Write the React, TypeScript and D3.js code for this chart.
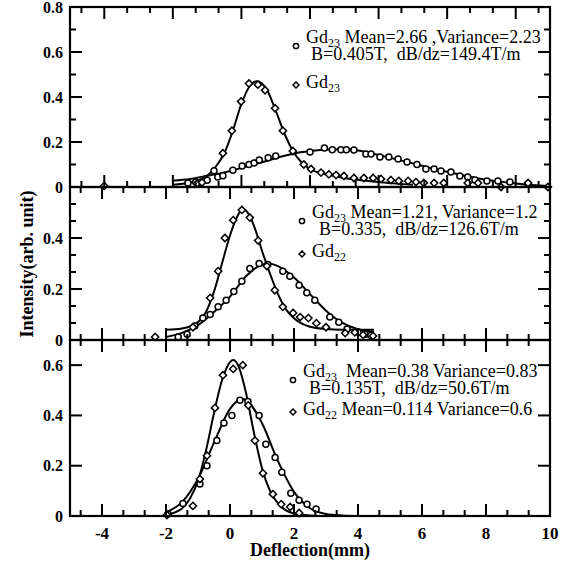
import * as d3 from "d3";

// ---- data (x in mm, y in arb. unit) ----
type Pt = [number, number];

// top panel: B=0.405T
const p1Circles: Pt[] = [
  [-1.56, 0.018], [-1.33, 0.022], [-1.2, 0.02], [-1.0, 0.03], [-0.8, 0.072], [-0.69, 0.044],
  [-0.54, 0.05], [-0.25, 0.075], [0.02, 0.093], [0.22, 0.1], [0.37, 0.107], [0.52, 0.12],
  [0.78, 0.13], [1.0, 0.138], [2.0, 0.156], [2.42, 0.173], [2.65, 0.166], [2.9, 0.166],
  [3.06, 0.166], [3.28, 0.164], [3.63, 0.147], [3.78, 0.147], [4.04, 0.133], [4.3, 0.133],
  [4.57, 0.124], [4.83, 0.111], [5.12, 0.1], [5.38, 0.08], [5.62, 0.08], [5.82, 0.071],
  [6.11, 0.067], [6.37, 0.049], [6.6, 0.044], [6.81, 0.031], [7.16, 0.027], [7.48, 0.027],
  [7.83, 0.022], [8.36, 0.013],
];
const p1Diamonds: Pt[] = [
  [-4.0, 0.005], [-1.3, 0.015], [-1.15, 0.02], [-0.54, 0.15], [-0.28, 0.25], [-0.01, 0.38],
  [0.22, 0.46], [0.48, 0.455], [0.69, 0.43], [0.98, 0.35], [1.21, 0.25], [1.5, 0.16],
  [1.82, 0.1], [2.03, 0.08], [2.32, 0.064], [2.55, 0.056], [2.76, 0.053], [2.99, 0.049],
  [3.28, 0.04], [3.57, 0.04], [3.84, 0.04], [4.07, 0.036], [4.36, 0.031], [4.59, 0.027],
  [4.86, 0.027], [5.09, 0.022], [5.32, 0.018], [5.62, 0.018], [5.9, 0.018], [6.6, 0.018],
  [6.9, 0.018], [7.57, 0.0], [8.36, 0.018], [8.94, 0.0],
];
const p1BroadFit: Pt[] = [
  [-2, 0.028], [-1.5, 0.036], [-1, 0.05], [-0.5, 0.065], [0, 0.085], [0.5, 0.105], [1, 0.128],
  [1.5, 0.148], [2, 0.16], [2.5, 0.167], [3, 0.168], [3.5, 0.16], [4, 0.142], [4.5, 0.124],
  [5, 0.105], [5.5, 0.085], [6, 0.068], [6.5, 0.05], [7, 0.036], [7.5, 0.025], [8, 0.016],
  [8.5, 0.009], [9, 0.005],
];
const p1PeakFit: Pt[] = [
  [-2, 0.01], [-1.5, 0.02], [-1, 0.05], [-0.75, 0.09], [-0.5, 0.15], [-0.25, 0.25], [0, 0.37],
  [0.25, 0.45], [0.45, 0.47], [0.75, 0.43], [1, 0.34], [1.25, 0.24], [1.5, 0.16], [1.75, 0.11],
  [2, 0.08], [2.5, 0.055], [3, 0.04], [3.5, 0.03], [4, 0.022], [4.5, 0.015], [5, 0.01],
];

// middle panel: B=0.335
const p2Circles: Pt[] = [
  [-1.62, 0.012], [-1.34, 0.023], [-1.1, 0.055], [-0.85, 0.086], [-0.62, 0.1], [-0.37, 0.13],
  [-0.12, 0.156], [0.12, 0.19], [0.37, 0.23], [0.62, 0.28], [0.91, 0.3], [1.18, 0.296],
  [1.65, 0.27], [1.87, 0.25], [2.16, 0.215], [2.4, 0.185], [2.65, 0.156], [3.12, 0.09],
  [3.4, 0.07], [3.66, 0.043], [4.0, 0.03], [4.22, 0.023], [4.4, 0.018],
];
const p2Diamonds: Pt[] = [
  [-2.34, 0.012], [-1.16, 0.05], [-0.62, 0.165], [-0.37, 0.27], [-0.16, 0.4], [0.1, 0.47],
  [0.37, 0.51], [0.62, 0.48], [0.88, 0.39], [1.15, 0.29], [1.4, 0.195], [1.65, 0.13],
  [1.97, 0.106], [2.19, 0.09], [2.45, 0.086], [2.7, 0.066], [3.0, 0.05], [3.6, 0.027],
  [3.9, 0.03], [4.16, 0.02], [4.47, 0.016],
];
const p2BroadFit: Pt[] = [
  [-2, 0.012], [-1.5, 0.028], [-1, 0.058], [-0.5, 0.11], [0, 0.17], [0.5, 0.25], [0.9, 0.29],
  [1.2, 0.3], [1.5, 0.29], [2, 0.245], [2.5, 0.18], [3, 0.115], [3.5, 0.068], [4, 0.042],
  [4.5, 0.032],
];
const p2PeakFit: Pt[] = [
  [-2, 0.04], [-1.5, 0.045], [-1, 0.07], [-0.75, 0.11], [-0.5, 0.19], [-0.25, 0.3], [0, 0.41],
  [0.25, 0.49], [0.4, 0.515], [0.6, 0.49], [0.8, 0.43], [1, 0.35], [1.25, 0.26], [1.5, 0.18],
  [1.75, 0.12], [2, 0.085], [2.5, 0.052], [3, 0.043], [3.5, 0.04], [4, 0.04], [4.5, 0.04],
];

// bottom panel: B=0.135T
const p3Circles: Pt[] = [
  [-1.94, 0.008], [-1.47, 0.05], [-0.94, 0.127], [-0.72, 0.2], [-0.41, 0.3], [-0.19, 0.37],
  [0.06, 0.4], [0.31, 0.46], [0.56, 0.455], [0.91, 0.4], [1.12, 0.285], [1.41, 0.233],
  [1.62, 0.174], [1.9, 0.09], [2.16, 0.063], [2.41, 0.047], [2.69, 0.028],
];
const p3Diamonds: Pt[] = [
  [-1.97, 0.004], [-1.16, 0.04], [-0.94, 0.147], [-0.72, 0.24], [-0.47, 0.43], [-0.22, 0.56],
  [0.1, 0.585], [0.4, 0.6], [0.57, 0.44], [0.78, 0.3], [1.03, 0.17], [1.34, 0.087],
  [1.6, 0.047], [1.88, 0.036], [2.16, 0.012],
];
const p3BroadFit: Pt[] = [
  [-2, 0.015], [-1.5, 0.055], [-1, 0.148], [-0.5, 0.292], [0, 0.426], [0.38, 0.465],
  [0.5, 0.461], [1, 0.369], [1.5, 0.218], [2, 0.096], [2.5, 0.031], [3, 0.008], [3.5, 0.002],
  [4, 0],
];
const p3PeakFit: Pt[] = [
  [-2, 0.004], [-1.5, 0.03], [-1.25, 0.07], [-1, 0.14], [-0.75, 0.26], [-0.5, 0.41],
  [-0.25, 0.54], [0, 0.612], [0.1, 0.62], [0.25, 0.6], [0.5, 0.49], [0.75, 0.33], [1, 0.19],
  [1.25, 0.1], [1.5, 0.05], [1.75, 0.022], [2, 0.01], [2.5, 0.002], [3, 0],
];

const yTickLabels1 = [0, 0.2, 0.4, 0.6, 0.8];
const yTickLabels2 = [0, 0.2, 0.4];
const yTickLabels3 = [0, 0.2, 0.4, 0.6];
const xTickLabels = [-4, -2, 0, 2, 4, 6, 8, 10];

// ---- layout ----
const W = 575;
const H = 565;
const LEFT = 70;
const RIGHT = 550;
const FONT = '"Liberation Serif", Tinos, "Times New Roman", "DejaVu Serif", serif';

type Legend = {
  x: number;
  y: number;
  line1: [string, string];
  line2: string;
  line2dx: number;
  line3: [string, string];
  gap: number;
};

const panels = [
  {
    top: 7, bottom: 187, xDomain: [-5, 9], yMax: 0.8, yMinor: 1, yLabels: yTickLabels1,
    circles: p1Circles, diamonds: p1Diamonds, fits: [p1BroadFit, p1PeakFit],
    legend: {
      x: 306, y: 43, line1: ["23", " Mean=2.66 ,Variance=2.23"],
      line2: "B=0.405T,  dB/dz=149.4T/m", line2dx: 5, line3: ["23", ""], gap: 45,
    } as Legend,
  },
  {
    top: 187, bottom: 340, xDomain: [-5, 10], yMax: 0.6, yMinor: 2, yLabels: yTickLabels2,
    circles: p2Circles, diamonds: p2Diamonds, fits: [p2BroadFit, p2PeakFit],
    legend: {
      x: 312, y: 218, line1: ["23", " Mean=1.21, Variance=1.2"],
      line2: "B=0.335,  dB/dz=126.6T/m", line2dx: 7, line3: ["22", ""], gap: 39,
    } as Legend,
  },
  {
    top: 340, bottom: 516, xDomain: [-5, 10], yMax: 0.7, yMinor: 0, yLabels: yTickLabels3,
    circles: p3Circles, diamonds: p3Diamonds, fits: [p3BroadFit, p3PeakFit],
    legend: {
      x: 303, y: 377, line1: ["23", "  Mean=0.38 Variance=0.83"],
      line2: "B=0.135T,  dB/dz=50.6T/m", line2dx: 6, line3: ["22", " Mean=0.114 Variance=0.6"],
      gap: 38,
    } as Legend,
  },
];

function diamond(cx: number, cy: number, r = 3.6) {
  return `M${cx},${cy - r}L${cx + r},${cy}L${cx},${cy + r}L${cx - r},${cy}Z`;
}

function Panel({ p, showXLabels }: { p: (typeof panels)[number]; showXLabels: boolean }) {
  const x = d3.scaleLinear().domain(p.xDomain).range([LEFT, RIGHT]);
  const y = d3.scaleLinear().domain([0, p.yMax]).range([p.bottom, p.top]);
  const line = d3
    .line<Pt>()
    .x((d) => x(d[0]))
    .y((d) => y(d[1]))
    .curve(d3.curveMonotoneX);

  const xMajor = d3.range(-4, p.xDomain[1] + 0.001, 2);
  const xMinor = d3
    .range(-4 - 4 / 3, p.xDomain[1] + 0.001, 2 / 3)
    .filter((v) => v > p.xDomain[0] + 0.01 && v < p.xDomain[1] - 0.01)
    .filter((v) => xMajor.every((m) => Math.abs(m - v) > 0.01));
  const yMajor = d3.range(0, p.yMax + 0.001, 0.2);
  const yMinor =
    p.yMinor > 0
      ? d3
          .range(0, p.yMax + 0.001, 0.2 / (p.yMinor + 1))
          .filter((v) => yMajor.every((m) => Math.abs(m - v) > 0.005))
      : [];

  const lg = p.legend;
  const txt = { fontFamily: FONT, whiteSpace: "pre" as const };
  return (
    <g>
      {/* fitted curves */}
      {p.fits.map((f, i) => (
        <path key={i} d={line(f) ?? ""} fill="none" stroke="#000" strokeWidth={2} />
      ))}
      {/* measured points */}
      {p.circles.map((d, i) => (
        <circle key={"c" + i} cx={x(d[0])} cy={y(d[1])} r={3} fill="#fff" stroke="#000" strokeWidth={1.5} />
      ))}
      {p.diamonds.map((d, i) => (
        <path key={"d" + i} d={diamond(x(d[0]), y(d[1]))} fill="#fff" stroke="#000" strokeWidth={1.5} />
      ))}

      {/* ticks, all four sides, pointing inward */}
      {xMajor.map((v) => (
        <g key={"xm" + v}>
          <line x1={x(v)} x2={x(v)} y1={p.bottom} y2={p.bottom - 12} stroke="#000" strokeWidth={2} />
          <line x1={x(v)} x2={x(v)} y1={p.top} y2={p.top + 12} stroke="#000" strokeWidth={2} />
        </g>
      ))}
      {xMinor.map((v, i) => (
        <g key={"xn" + i}>
          <line x1={x(v)} x2={x(v)} y1={p.bottom} y2={p.bottom - 6} stroke="#000" strokeWidth={2} />
          <line x1={x(v)} x2={x(v)} y1={p.top} y2={p.top + 6} stroke="#000" strokeWidth={2} />
        </g>
      ))}
      {yMajor.map((v, i) => (
        <g key={"ym" + i}>
          <line x1={LEFT} x2={LEFT + 12} y1={y(v)} y2={y(v)} stroke="#000" strokeWidth={2} />
          <line x1={RIGHT} x2={RIGHT - 12} y1={y(v)} y2={y(v)} stroke="#000" strokeWidth={2} />
        </g>
      ))}
      {yMinor.map((v, i) => (
        <g key={"yn" + i}>
          <line x1={LEFT} x2={LEFT + 6} y1={y(v)} y2={y(v)} stroke="#000" strokeWidth={2} />
          <line x1={RIGHT} x2={RIGHT - 6} y1={y(v)} y2={y(v)} stroke="#000" strokeWidth={2} />
        </g>
      ))}
      <rect x={LEFT} y={p.top} width={RIGHT - LEFT} height={p.bottom - p.top} fill="none" stroke="#000" strokeWidth={2.2} />

      {/* y tick labels */}
      {p.yLabels.map((v) => (
        <text key={"yl" + v} x={63} y={y(v)} dy="0.35em" textAnchor="end" fontSize={16} fontWeight="bold" style={txt}>
          {v === 0 ? "0" : v.toFixed(1)}
        </text>
      ))}
      {showXLabels &&
        xTickLabels.map((v) => (
          <text key={"xl" + v} x={x(v)} y={539} textAnchor="middle" fontSize={17} fontWeight="bold" style={txt}>
            {v}
          </text>
        ))}

      {/* legend */}
      <g fontSize={18} style={txt}>
        <circle cx={lg.x - 10} cy={lg.y + 3} r={2.6} fill="#fff" stroke="#000" strokeWidth={1.5} />
        <text x={lg.x} y={lg.y} style={txt}>
          <tspan>Gd</tspan>
          <tspan dy={4} fontSize={12}>{lg.line1[0]}</tspan>
          <tspan dy={-4}>{lg.line1[1]}</tspan>
        </text>
        <text x={lg.x + lg.line2dx} y={lg.y + 17} style={txt}>{lg.line2}</text>
        <path d={diamond(lg.x - 10, lg.y + lg.gap - 3, 3)} fill="#fff" stroke="#000" strokeWidth={1.5} />
        <text x={lg.x} y={lg.y + lg.gap} style={txt}>
          <tspan>Gd</tspan>
          <tspan dy={4} fontSize={12}>{lg.line3[0]}</tspan>
          <tspan dy={-4}>{lg.line3[1]}</tspan>
        </text>
      </g>
    </g>
  );
}

export default function App() {
  return (
    <svg
      width={W}
      height={H}
      style={{ position: "absolute", left: 0, top: 0, background: "#fff" }}
    >
      <rect width={W} height={H} fill="#fff" />
      {panels.map((p, i) => (
        <Panel key={i} p={p} showXLabels={i === panels.length - 1} />
      ))}
      <text x={310} y={556} textAnchor="middle" fontSize={18} fontWeight="bold" style={{ fontFamily: FONT }}>
        Deflection(mm)
      </text>
      <text
        transform="translate(33,264) rotate(-90)"
        textAnchor="middle"
        fontSize={18}
        fontWeight="bold"
        style={{ fontFamily: FONT }}
      >
        Intensity(arb. unit)
      </text>
    </svg>
  );
}
